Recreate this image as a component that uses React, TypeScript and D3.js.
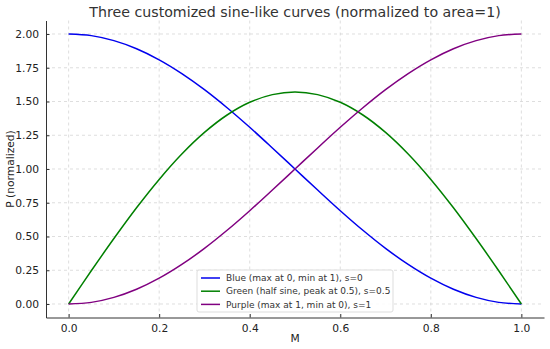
import React, { useEffect, useRef } from 'react';
import * as d3 from 'd3';

const mValues = [0, 0.05, 0.1, 0.15, 0.2, 0.25, 0.3, 0.35, 0.4, 0.45, 0.5, 0.55, 0.6, 0.65, 0.7, 0.75, 0.8, 0.85, 0.9, 0.95, 1];
const blueValues = [2.0, 1.988, 1.951, 1.891, 1.809, 1.707, 1.588, 1.454, 1.309, 1.156, 1.0, 0.844, 0.691, 0.546, 0.412, 0.293, 0.191, 0.109, 0.049, 0.012, 0.0];
const greenValues = [0, 0.246, 0.485, 0.713, 0.923, 1.111, 1.271, 1.4, 1.494, 1.551, 1.571, 1.551, 1.494, 1.4, 1.271, 1.111, 0.923, 0.713, 0.485, 0.246, 0];
const purpleValues = [0.0, 0.012, 0.049, 0.109, 0.191, 0.293, 0.412, 0.546, 0.691, 0.844, 1.0, 1.156, 1.309, 1.454, 1.588, 1.707, 1.809, 1.891, 1.951, 1.988, 2.0];
const xTicks = [0, 0.2, 0.4, 0.6, 0.8, 1.0];
const yTicks = [0, 0.25, 0.5, 0.75, 1.0, 1.25, 1.5, 1.75, 2.0];
const seriesNames = [
  'Blue (max at 0, min at 1), s=0',
  'Green (half sine, peak at 0.5), s=0.5',
  'Purple (max at 1, min at 0), s=1',
];
const seriesColors = ['#0000ee', '#008000', '#800080'];

const W = 550;
const H = 349;
const FONT = 'DejaVu Sans, sans-serif';

export default function App() {
  const svgRef = useRef<SVGSVGElement>(null);

  useEffect(() => {
    const svg = d3.select(svgRef.current);
    svg.selectAll('*').remove();

    const left = 46, right = 544, top = 20.5, bottom = 317.5;
    const x = d3.scaleLinear().domain([-0.05, 1.05]).range([left, right]);
    const y = d3.scaleLinear().domain([-0.1, 2.1]).range([bottom, top]);

    // grid
    const grid = svg.append('g');
    xTicks.forEach(t => {
      grid.append('line')
        .attr('x1', x(t)).attr('x2', x(t)).attr('y1', top).attr('y2', bottom)
        .attr('stroke', '#d0d0d0').attr('stroke-width', 0.7).attr('stroke-dasharray', '3,3');
    });
    yTicks.forEach(t => {
      grid.append('line')
        .attr('x1', left).attr('x2', right).attr('y1', y(t)).attr('y2', y(t))
        .attr('stroke', '#d0d0d0').attr('stroke-width', 0.7).attr('stroke-dasharray', '3,3');
    });

    // curves
    const all = [blueValues, greenValues, purpleValues];
    const line = d3.line<number>()
      .x((_, i) => x(mValues[i]))
      .y(d => y(d))
      .curve(d3.curveCatmullRom);
    all.forEach((vals, k) => {
      svg.append('path')
        .attr('d', line(vals))
        .attr('fill', 'none')
        .attr('stroke', seriesColors[k])
        .attr('stroke-width', 1.5);
    });

    // axes
    const xAxis = d3.axisBottom(x).tickValues(xTicks).tickFormat(d3.format('.1f')).tickSizeInner(-3.5).tickSizeOuter(0).tickPadding(7);
    const gx = svg.append('g').attr('transform', `translate(0,${bottom})`).call(xAxis);
    const yAxis = d3.axisLeft(y).tickValues(yTicks).tickFormat(d3.format('.2f')).tickSizeInner(-3.5).tickSizeOuter(0).tickPadding(7);
    const gy = svg.append('g').attr('transform', `translate(${left},0)`).call(yAxis);
    [gx, gy].forEach(g => {
      g.select('.domain').attr('stroke', '#333').attr('stroke-width', 1);
      g.selectAll('.tick line').attr('stroke', '#333');
      g.selectAll('.tick text').attr('fill', '#222').style('font-family', FONT).style('font-size', '10.7px');
    });

    // title and labels
    svg.append('text').attr('x', (left + right) / 2).attr('y', 16.5)
      .attr('text-anchor', 'middle').attr('fill', '#333')
      .style('font-family', FONT).style('font-size', '14.2px')
      .text('Three customized sine-like curves (normalized to area=1)');
    svg.append('text').attr('x', (left + right) / 2).attr('y', 342)
      .attr('text-anchor', 'middle').attr('fill', '#222')
      .style('font-family', FONT).style('font-size', '10.7px')
      .text('M');
    svg.append('text').attr('transform', `translate(14,${(top + bottom) / 2}) rotate(-90)`)
      .attr('text-anchor', 'middle').attr('fill', '#222')
      .style('font-family', FONT).style('font-size', '10.7px')
      .text('P (normalized)');

    // legend
    const lg = svg.append('g').attr('transform', 'translate(197,270)');
    lg.append('rect').attr('width', 196).attr('height', 42).attr('rx', 2)
      .attr('fill', 'white').attr('fill-opacity', 0.85).attr('stroke', '#ddd');
    seriesNames.forEach((name, i) => {
      const yy = 8 + i * 13.2;
      lg.append('line').attr('x1', 4).attr('x2', 23).attr('y1', yy).attr('y2', yy)
        .attr('stroke', seriesColors[i]).attr('stroke-width', 1.5);
      lg.append('text').attr('x', 29).attr('y', yy + 3.2).attr('fill', '#333')
        .style('font-family', FONT).style('font-size', '9px')
        .text(name);
    });
  }, []);

  return (
    <svg ref={svgRef} width={W} height={H} style={{ position: 'absolute', left: 0, top: 0, background: 'white' }} />
  );
}
